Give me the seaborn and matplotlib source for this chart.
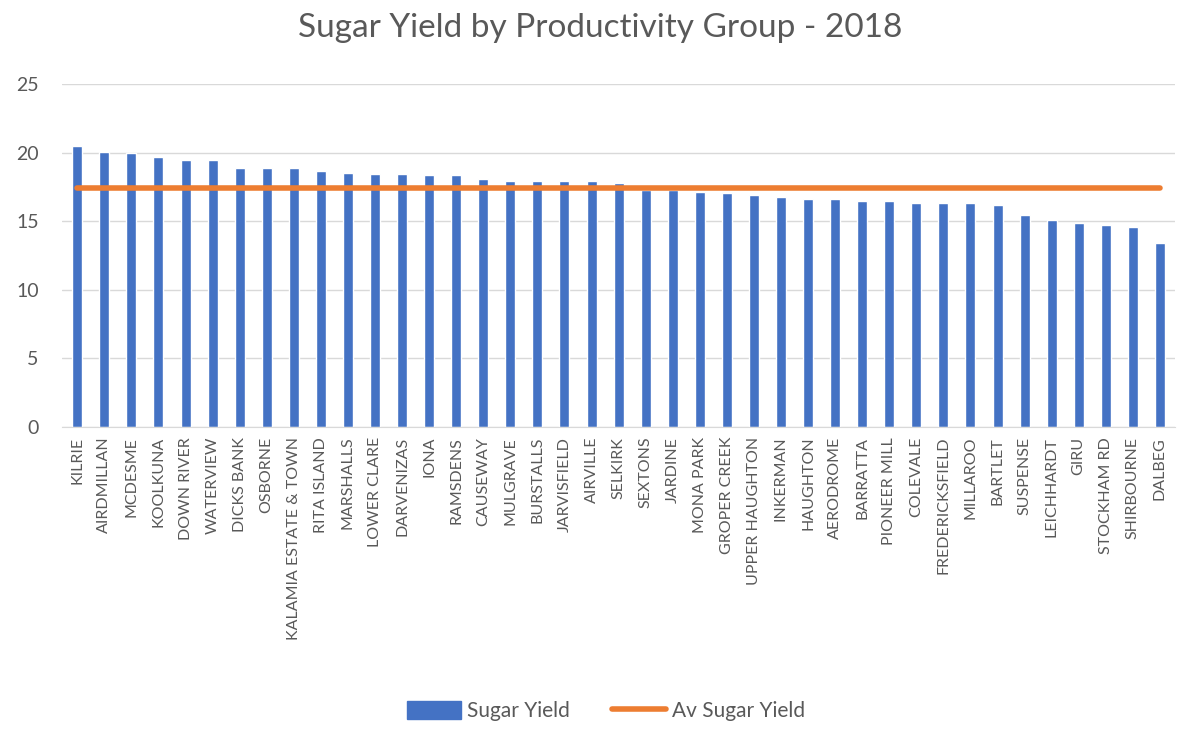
import numpy as np
import pandas as pd
import matplotlib.pyplot as plt
import seaborn as sns
from matplotlib.patches import Patch
from matplotlib.lines import Line2D

# Productivity groups, sorted by yield
groups = ['KILRIE', 'AIRDMILLAN', 'MCDESME', 'KOOLKUNA', 'DOWN RIVER', 'WATERVIEW',
          'DICKS BANK', 'OSBORNE', 'KALAMIA ESTATE & TOWN', 'RITA ISLAND', 'MARSHALLS',
          'LOWER CLARE', 'DARVENIZAS', 'IONA', 'RAMSDENS', 'CAUSEWAY', 'MULGRAVE',
          'BURSTALLS', 'JARVISFIELD', 'AIRVILLE', 'SELKIRK', 'SEXTONS', 'JARDINE',
          'MONA PARK', 'GROPER CREEK', 'UPPER HAUGHTON', 'INKERMAN', 'HAUGHTON',
          'AERODROME', 'BARRATTA', 'PIONEER MILL', 'COLEVALE', 'FREDERICKSFIELD',
          'MILLAROO', 'BARTLET', 'SUSPENSE', 'LEICHHARDT', 'GIRU', 'STOCKHAM RD',
          'SHIRBOURNE', 'DALBEG']

sugar_yield = [20.5, 20.05, 20.0, 19.7, 19.5, 19.45, 18.85, 18.85, 18.85, 18.65, 18.5,
               18.45, 18.45, 18.35, 18.35, 18.1, 17.95, 17.95, 17.95, 17.9, 17.8, 17.3,
               17.25, 17.1, 17.05, 16.9, 16.75, 16.65, 16.65, 16.5, 16.45, 16.35, 16.35,
               16.3, 16.2, 15.45, 15.1, 14.9, 14.75, 14.6, 13.4]

av_sugar_yield = [17.45] * len(groups)

df = pd.DataFrame({'Group': groups, 'Sugar Yield': sugar_yield,
                   'Av Sugar Yield': av_sugar_yield})
df['pos'] = np.arange(len(df))

blue = '#4472C4'
orange = '#ED7D31'
grey = '#595959'

sns.set_style('white')
plt.rcParams['font.family'] = ['Lato', 'DejaVu Sans']

fig = plt.figure(figsize=(12, 7.44), dpi=100)
ax = fig.add_axes([0.052, 0.426, 0.927, 0.461])

sns.barplot(data=df, x='pos', y='Sugar Yield', color=blue, width=0.37,
            saturation=1, ax=ax, zorder=2)
sns.lineplot(data=df, x='pos', y='Av Sugar Yield', color=orange, linewidth=4,
             ax=ax, zorder=3)

ax.set_ylim(0, 25)
ax.set_yticks([0, 5, 10, 15, 20, 25])
ax.set_xlim(-0.55, len(groups) - 0.45)
ax.set_xticks(df['pos'])
ax.set_xticklabels(groups, rotation=90, fontsize=11.5, color=grey)
ax.tick_params(axis='y', labelsize=14, labelcolor=grey, length=0, pad=17)
ax.tick_params(axis='x', length=0, pad=7)
ax.yaxis.grid(True, color='#D9D9D9', linewidth=1, zorder=0)
ax.set_axisbelow(True)
for side in ['left', 'right', 'top']:
    ax.spines[side].set_visible(False)
ax.spines['bottom'].set_color('#D9D9D9')
ax.set_xlabel('')
ax.set_ylabel('')

fig.suptitle('Sugar Yield by Productivity Group - 2018', fontsize=24, color=grey,
             y=0.982)

handles = [Patch(facecolor=blue, edgecolor=blue),
           Line2D([0], [0], color=orange, linewidth=4)]
fig.legend(handles, ['Sugar Yield', 'Av Sugar Yield'], loc='center',
           bbox_to_anchor=(0.505, 0.044), ncol=2, frameon=False, fontsize=15,
           labelcolor=grey, handlelength=2.6, handleheight=0.9, columnspacing=2.0,
           handletextpad=0.3)

plt.savefig('out.png')
